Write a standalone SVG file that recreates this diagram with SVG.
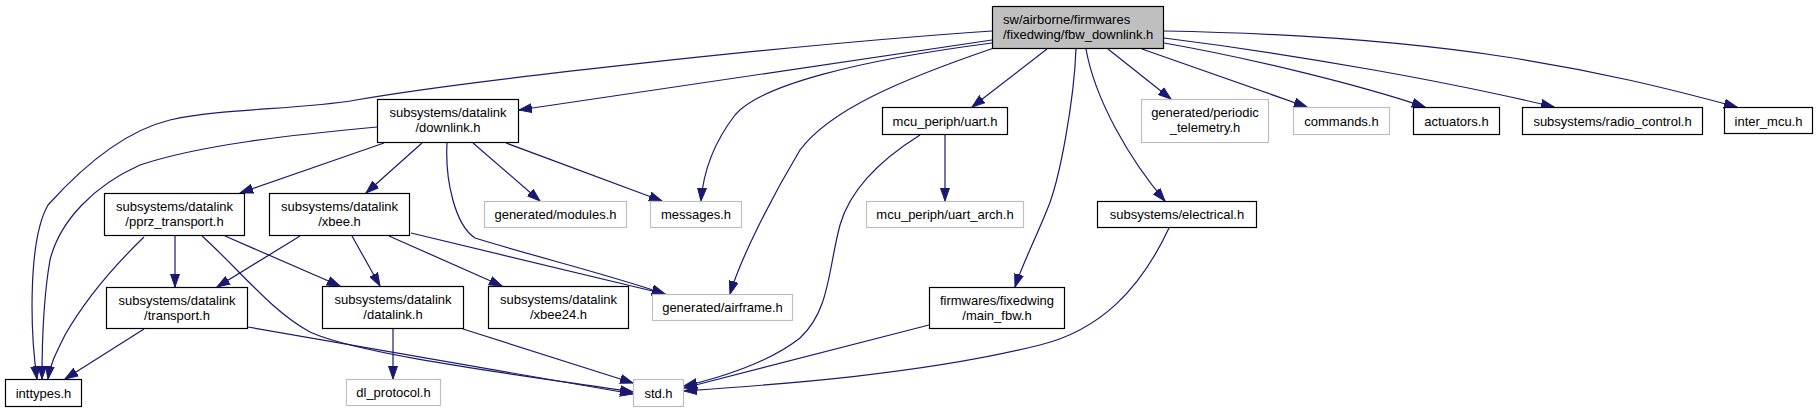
<svg xmlns="http://www.w3.org/2000/svg" width="1819" height="413" viewBox="0 0 1819 413">
<style>
rect{fill:#fff;stroke:#000;stroke-width:1.2}
.g rect{stroke:#bfbfbf}
.root rect{fill:#bfbfbf}
text{font-family:"Liberation Sans",Helvetica,Arial,sans-serif;font-size:13px;fill:#000;text-anchor:middle}
.root text{text-anchor:start}
#edges path{fill:none;stroke:#191970;stroke-width:1.2;marker-end:url(#ah)}
</style>
<defs>
<marker id="ah" markerWidth="14" markerHeight="10" refX="13" refY="5" orient="auto" markerUnits="userSpaceOnUse">
<path d="M0,0.5 L13,5 L0,9.5 z" fill="#191970" stroke="#191970" stroke-width="1"/>
</marker>
</defs>
<rect x="0" y="0" width="1819" height="413" style="fill:#fff;stroke:none"/>
<g id="edges">
<path d="M992,31 C800,44 470,80 356,100 C300,110 220,108 170,120 C120,132 75,175 48,205 C28,240 30,330 37,379"/>
<path d="M377,127 C290,135 200,145 140,165 C95,185 60,220 50,260 C43,300 42,340 42,379"/>
<path d="M144,237 C115,265 85,300 65,335 C55,355 50,365 48,379"/>
<path d="M144,329 L65,379"/>
<path d="M992,40 L519,110"/>
<path d="M992,43 C860,60 760,85 735,115 C712,145 703,175 701,201"/>
<path d="M994,48 C900,80 830,110 800,150 C770,200 740,260 730,294"/>
<path d="M1047,49 L972,107"/>
<path d="M1076,49 C1074,100 1060,180 1047,210 C1035,240 1022,265 1015,287"/>
<path d="M1086,49 C1095,100 1130,160 1165,201"/>
<path d="M1108,49 L1171,99"/>
<path d="M1142,49 L1307,107"/>
<path d="M1164,43 C1250,58 1360,85 1425,107"/>
<path d="M1164,38 C1300,55 1450,82 1554,107"/>
<path d="M1164,31 C1450,36 1600,70 1737,107"/>
<path d="M384,143 L240,193"/>
<path d="M422,143 L366,193"/>
<path d="M447,143 C445,180 455,225 475,238 C540,258 610,275 665,294"/>
<path d="M473,143 L540,201"/>
<path d="M506,143 L662,201"/>
<path d="M175,236 L175,287"/>
<path d="M225,236 L340,286"/>
<path d="M202,236 C240,270 270,310 310,332 C360,355 520,375 633,392"/>
<path d="M300,236 L217,287"/>
<path d="M352,236 L380,286"/>
<path d="M389,236 L502,286"/>
<path d="M411,233 L665,294"/>
<path d="M248,327 L633,394"/>
<path d="M393,329 L393,379"/>
<path d="M463,329 L633,383"/>
<path d="M945,135 L945,201"/>
<path d="M920,135 C880,160 850,190 840,225 C828,270 830,310 800,338 C770,362 720,378 684,386"/>
<path d="M929,325 L684,388"/>
<path d="M1169,228 C1140,290 1100,330 1040,345 C920,375 770,385 684,391"/>
</g>
<g id="n_root" class="root"><rect x="992.5" y="6.5" width="171" height="42"/><text x="1003" y="24">sw/airborne/firmwares</text><text x="1003" y="39">/fixedwing/fbw_downlink.h</text></g>
<g id="n_downlink"><rect x="377.5" y="99.5" width="141" height="43"/><text x="448" y="117">subsystems/datalink</text><text x="448" y="132">/downlink.h</text></g>
<g id="n_pprz"><rect x="104.5" y="193.5" width="140" height="42"/><text x="174.5" y="211">subsystems/datalink</text><text x="174.5" y="226">/pprz_transport.h</text></g>
<g id="n_xbee"><rect x="269.5" y="193.5" width="140" height="42"/><text x="339.5" y="211">subsystems/datalink</text><text x="339.5" y="226">/xbee.h</text></g>
<g id="n_transport"><rect x="106.5" y="287.5" width="141" height="41"/><text x="177" y="305">subsystems/datalink</text><text x="177" y="320">/transport.h</text></g>
<g id="n_datalink"><rect x="322.5" y="286.5" width="141" height="42"/><text x="393" y="304">subsystems/datalink</text><text x="393" y="319">/datalink.h</text></g>
<g id="n_xbee24"><rect x="488.5" y="286.5" width="140" height="42"/><text x="558.5" y="304">subsystems/datalink</text><text x="558.5" y="319">/xbee24.h</text></g>
<g id="n_inttypes"><rect x="5.5" y="379.5" width="76" height="27"/><text x="43.5" y="398">inttypes.h</text></g>
<g id="n_dlprotocol" class="g"><rect x="346.5" y="379.5" width="94" height="26"/><text x="393.5" y="397">dl_protocol.h</text></g>
<g id="n_modules" class="g"><rect x="484.5" y="201.5" width="142" height="26"/><text x="555.5" y="219">generated/modules.h</text></g>
<g id="n_messages" class="g"><rect x="650.5" y="201.5" width="91" height="26"/><text x="696" y="219">messages.h</text></g>
<g id="n_airframe" class="g"><rect x="652.5" y="294.5" width="140" height="26"/><text x="722.5" y="312">generated/airframe.h</text></g>
<g id="n_std" class="g"><rect x="633.5" y="379.5" width="50" height="27"/><text x="658.5" y="398">std.h</text></g>
<g id="n_uart"><rect x="882.5" y="107.5" width="125" height="27"/><text x="945" y="126">mcu_periph/uart.h</text></g>
<g id="n_uartarch" class="g"><rect x="866.5" y="201.5" width="157" height="26"/><text x="945" y="219">mcu_periph/uart_arch.h</text></g>
<g id="n_mainfbw"><rect x="929.5" y="287.5" width="135" height="41"/><text x="997" y="305">firmwares/fixedwing</text><text x="997" y="320">/main_fbw.h</text></g>
<g id="n_electrical"><rect x="1097.5" y="201.5" width="159" height="26"/><text x="1177" y="219">subsystems/electrical.h</text></g>
<g id="n_periodic" class="g"><rect x="1141.5" y="99.5" width="127" height="43"/><text x="1205" y="117">generated/periodic</text><text x="1205" y="132">_telemetry.h</text></g>
<g id="n_commands" class="g"><rect x="1293.5" y="107.5" width="96" height="27"/><text x="1341.5" y="126">commands.h</text></g>
<g id="n_actuators"><rect x="1413.5" y="107.5" width="86" height="27"/><text x="1456.5" y="126">actuators.h</text></g>
<g id="n_radio"><rect x="1522.5" y="107.5" width="180" height="27"/><text x="1612.5" y="126">subsystems/radio_control.h</text></g>
<g id="n_intermcu"><rect x="1724.5" y="107.5" width="88" height="26"/><text x="1768.5" y="126">inter_mcu.h</text></g>
</svg>
